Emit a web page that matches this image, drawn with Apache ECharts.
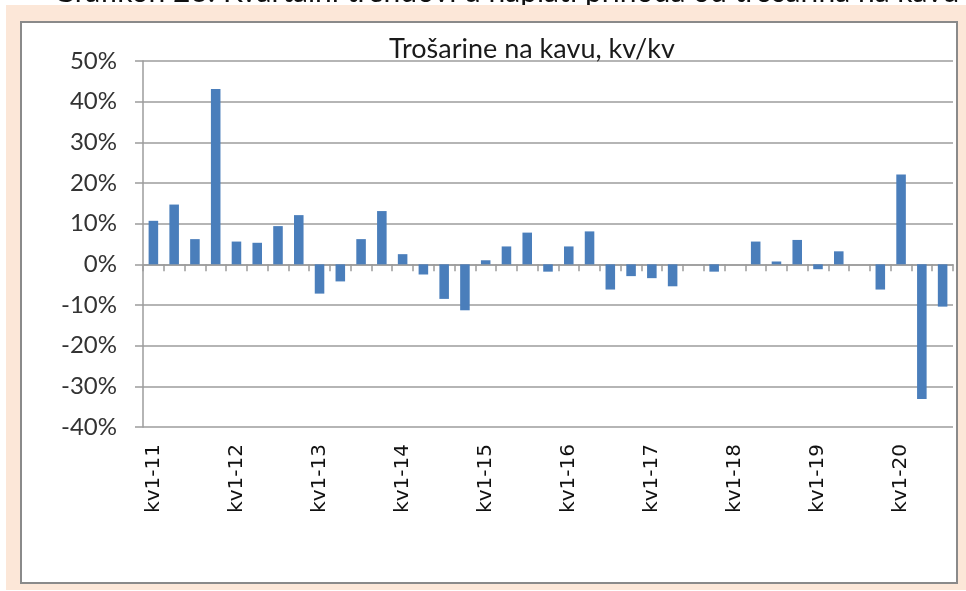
<!DOCTYPE html>
<html>
<head>
<meta charset="utf-8">
<script src="https://cdn.jsdelivr.net/npm/echarts@6/dist/echarts.min.js"></script>
<style>
  html, body { margin: 0; padding: 0; background: #fff; }
  #chart { width: 966px; height: 591px; }
</style>
</head>
<body>
<div id="chart"></div>
<script>
// kvartali kv1-11 .. kv3-20
let quarters = [
    'kv1-11','kv2-11','kv3-11','kv4-11',
    'kv1-12','kv2-12','kv3-12','kv4-12',
    'kv1-13','kv2-13','kv3-13','kv4-13',
    'kv1-14','kv2-14','kv3-14','kv4-14',
    'kv1-15','kv2-15','kv3-15','kv4-15',
    'kv1-16','kv2-16','kv3-16','kv4-16',
    'kv1-17','kv2-17','kv3-17','kv4-17',
    'kv1-18','kv2-18','kv3-18','kv4-18',
    'kv1-19','kv2-19','kv3-19','kv4-19',
    'kv1-20','kv2-20','kv3-20'
];

// promjena kv/kv, %
let changes = [
    10.7, 14.7, 6.2, 43.1,
    5.6, 5.3, 9.4, 12.1,
    -7.2, -4.2, 6.2, 13.1,
    2.5, -2.5, -8.5, -11.3,
    1.0, 4.4, 7.8, -1.8,
    4.4, 8.1, -6.2, -2.9,
    -3.4, -5.4, 0, -1.8,
    0, 5.6, 0.7, 6.0,
    -1.2, 3.2, 0, -6.2,
    22.1, -33.1, -10.4
];

let y_min = -40;
let y_max = 50;
let y_step = 10;

let chart = echarts.init(document.getElementById('chart'));

let gridColor = '#9c9c9c';

let option = {
    backgroundColor: '#ffffff',
    animation: false,
    graphic: [
        {
            type: 'rect',
            shape: { x: 6, y: 5, width: 966, height: 585 },
            style: { fill: '#fce7d8' },
            z: -10
        },
        {
            type: 'rect',
            shape: { x: 21, y: 22, width: 936, height: 561 },
            style: { fill: '#ffffff', stroke: '#8a8a8a', lineWidth: 2 },
            z: -9
        },
        {
            type: 'text',
            left: 53,
            top: -23,
            style: {
                text: 'Grafikon 23: Kvartalni trendovi u naplati prihoda od trošarina na kavu',
                font: '30px Lato',
                fill: '#111'
            },
            z: -11
        }
    ],
    title: {
        text: 'Trošarine na kavu, kv/kv',
        left: 384,
        top: 31,
        textStyle: {
            fontFamily: 'Lato',
            fontSize: 27,
            fontWeight: 'normal',
            color: '#1a1a1a'
        }
    },
    grid: {
        left: 143,
        right: 13,
        top: 61,
        bottom: 164
    },
    xAxis: [
        {
            type: 'category',
            data: quarters,
            position: 'bottom',
            axisLine: { show: false, onZero: false },
            axisTick: { show: false },
            axisLabel: {
                interval: 3,
                rotate: 90,
                margin: 17,
                fontFamily: 'DejaVu Sans',
                fontSize: 20,
                color: '#111'
            },
            splitLine: { show: false }
        },
        {
            type: 'category',
            data: quarters,
            position: 'bottom',
            axisLine: {
                show: true,
                onZero: true,
                lineStyle: { color: gridColor, width: 1.5 }
            },
            axisTick: {
                show: true,
                interval: 0,
                length: 7,
                lineStyle: { color: gridColor, width: 1.5 }
            },
            axisLabel: { show: false },
            splitLine: { show: false }
        }
    ],
    yAxis: {
        type: 'value',
        min: y_min,
        max: y_max,
        interval: y_step,
        axisLine: {
            show: true,
            lineStyle: { color: gridColor, width: 1.5 }
        },
        axisTick: {
            show: true,
            length: 8,
            lineStyle: { color: gridColor, width: 1.5 }
        },
        axisLabel: {
            formatter: '{value}%',
            margin: 26,
            fontFamily: 'Lato',
            fontSize: 24,
            color: '#333'
        },
        splitLine: {
            lineStyle: { color: gridColor, width: 1.5 }
        }
    },
    series: [
        {
            name: 'Trošarine na kavu',
            type: 'bar',
            xAxisIndex: 1,
            data: changes,
            barWidth: '46%',
            itemStyle: { color: '#4a7ebb' }
        }
    ]
};

chart.setOption(option);
</script>
</body>
</html>
